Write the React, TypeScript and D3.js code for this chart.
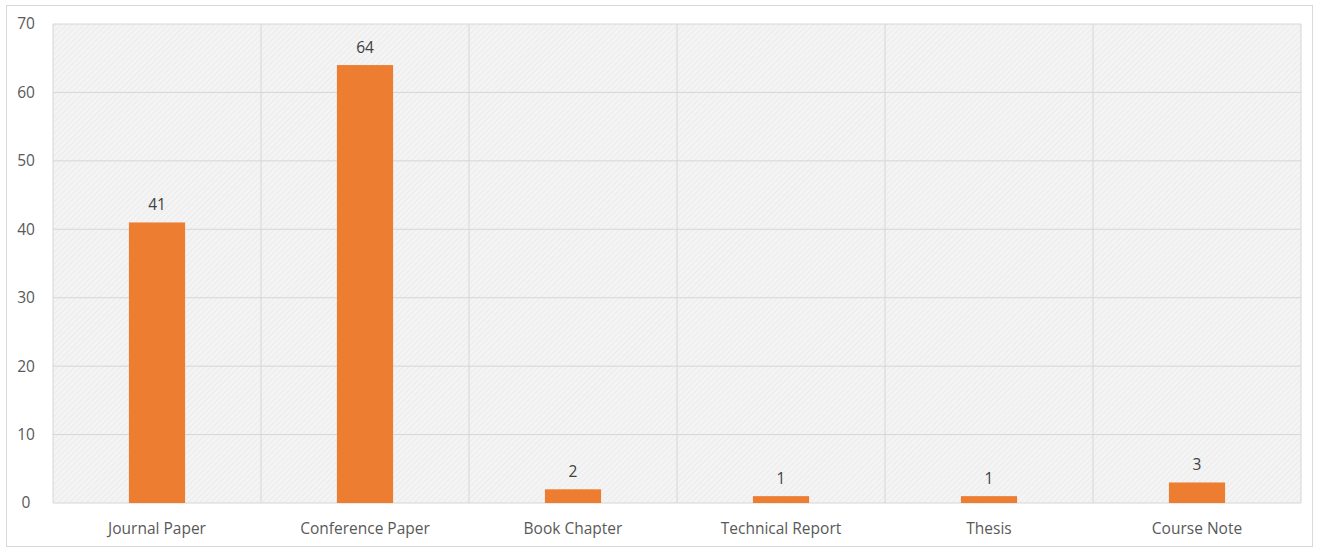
import React from "react";
import * as d3 from "d3";

const categories = ["Journal Paper", "Conference Paper", "Book Chapter", "Technical Report", "Thesis", "Course Note"];
const counts = [41, 64, 2, 1, 1, 3];
const yTicks = [0, 10, 20, 30, 40, 50, 60, 70];

const W = 1317;
const H = 548;
const left = 53, right = 1301, top = 24, bottom = 503;

export default function App() {
  const x = d3.scaleBand<string>().domain(categories).range([left, right]).paddingInner(0).paddingOuter(0);
  const y = d3.scaleLinear().domain([0, 70]).range([bottom, top]);
  const bw = x.bandwidth() * 0.27;
  const font = "'Open Sans', 'Noto Sans', sans-serif";
  return (
    <svg width={W} height={H} style={{ position: "absolute", left: 0, top: 0 }}>
      <defs>
        <pattern id="hatch" width="4" height="4" patternUnits="userSpaceOnUse" patternTransform="rotate(45)">
          <rect width="4" height="4" fill="#f4f4f4" />
          <line x1="0" y1="0" x2="0" y2="4" stroke="#e9e9e9" strokeWidth="1.5" />
        </pattern>
      </defs>
      <rect x={0} y={0} width={W} height={H} fill="#ffffff" />
      <rect x={6.5} y={5.5} width={1306} height={541} fill="none" stroke="#d9d9d9" strokeWidth={1} />
      <rect x={left} y={top} width={right - left} height={bottom - top} fill="url(#hatch)" />
      {yTicks.map((t) => (
        <g key={t}>
          <line x1={left} x2={right} y1={y(t)} y2={y(t)} stroke="#d6d6d6" strokeWidth={1} />
          <text x={26} y={y(t)} dy="0.35em" textAnchor="middle" fontFamily={font} fontSize={15.5} fill="#595959">{t}</text>
        </g>
      ))}
      {categories.map((c, i) => (
        <line key={"v" + i} x1={x(c)!} x2={x(c)!} y1={top} y2={bottom} stroke="#d6d6d6" strokeWidth={1} />
      ))}
      <line x1={right} x2={right} y1={top} y2={bottom} stroke="#d6d6d6" strokeWidth={1} />
      {categories.map((c, i) => {
        const cx = x(c)! + x.bandwidth() / 2;
        return (
          <g key={c}>
            <rect x={cx - bw / 2} y={y(counts[i])} width={bw} height={bottom - y(counts[i])} fill="#ED7D31" />
            <text x={cx} y={y(counts[i]) - 12} textAnchor="middle" fontFamily={font} fontSize={15.5} fill="#404040">{counts[i]}</text>
            <text x={cx} y={534} textAnchor="middle" fontFamily={font} fontSize={15.5} fill="#595959">{c}</text>
          </g>
        );
      })}
    </svg>
  );
}
